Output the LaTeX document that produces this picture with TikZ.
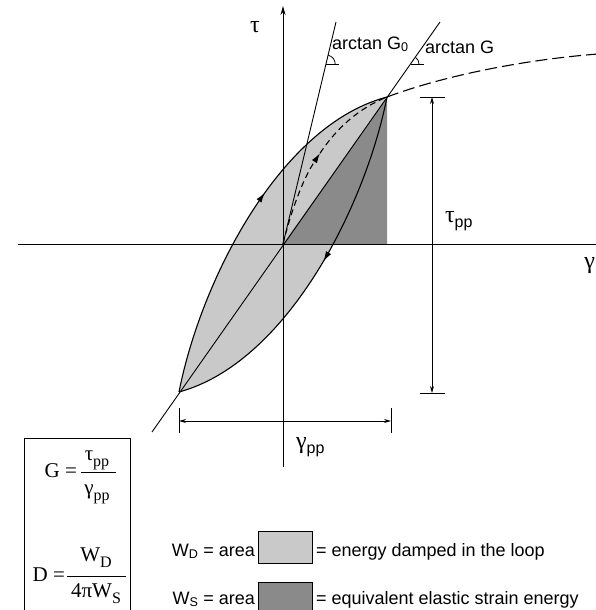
\documentclass[tikz,border=0pt]{standalone}
\usepackage{fontspec}
\setmainfont{Liberation Serif}
\newfontfamily\lsans{Liberation Sans}
\usetikzlibrary{arrows.meta,decorations.markings}
\definecolor{lightfill}{gray}{0.79}
\definecolor{darkfill}{gray}{0.54}
\newcommand{\fsub}[1]{\raisebox{-0.28em}{\fontsize{16}{16}\selectfont #1}}
\tikzset{
  lbl/.style={inner sep=0pt, outer sep=0pt},
  sanslbl/.style={lbl, font=\lsans\fontsize{18}{20}\selectfont},
  greek/.style={lbl, font=\fontsize{24}{26}\selectfont},
  formula/.style={lbl, font=\fontsize{21}{23}\selectfont},
  curve/.style={line width=1.1pt},
  plainline/.style={line width=0.9pt},
  dimline/.style={line width=0.8pt},
  branch arrow/.style={postaction={decorate,decoration={markings,mark=at position #1 with {\arrow{Latex[length=10pt,width=6pt]}}}}},
}
\begin{document}
\begin{tikzpicture}[x=1pt,y=-1pt]
\useasboundingbox (0,0) rectangle (595,610);
% key points
\coordinate (O) at (283,244);
\coordinate (A) at (179,392);
\coordinate (B) at (387,97);
\coordinate (Bfoot) at (387,244);
\coordinate (Glow) at (152,432);
\coordinate (Gup) at (440,22);
\coordinate (G0up) at (336,22);
\coordinate (Bend) at (598,54);
\coordinate (Mid) at (320,153.25);
% fills
\fill[lightfill] (A) .. controls (201,280) and (280,125) .. (B)
                    .. controls (365,208) and (286,363) .. (A) -- cycle;
\fill[darkfill] (O) -- (B) -- (Bfoot) -- cycle;
% axes
\coordinate (Hl) at (18,244);
\coordinate (Hr) at (597,244);
\coordinate (Vb) at (283,467);
\coordinate (Vt) at (283,6);
\draw[plainline] (Hl) -- (Hr);
\draw[plainline,-{Stealth[length=9pt,width=5pt]}] (Vb) -- (Vt);
\node[greek] (tauaxis) at (255,27) {τ};
\node[greek,anchor=east] (gammaaxis) at (595,266) {γ};
% secant and initial tangent
\draw[plainline] (Glow) -- (Gup);
\draw[plainline] (O) -- (G0up);
% loop branches
\draw[curve,branch arrow=0.58] (A) .. controls (201,280) and (280,125) .. (B);
\draw[curve,branch arrow=0.47] (B) .. controls (365,208) and (286,363) .. (A);
% backbone curve (split at its middle, arrow there)
\draw[curve,dash pattern=on 6pt off 4pt,-{Latex[length=10pt,width=6pt]}] (O) .. controls (291.5,209.5) and (303.25,178.5) .. (Mid);
\draw[curve,dash pattern=on 6pt off 4pt] (Mid) .. controls (336.75,128) and (358.5,108.5) .. (B);
\draw[curve,dash pattern=on 12pt off 5pt] (B) .. controls (440,77) and (520,60) .. (Bend);
% angle markers
\coordinate (P0) at (326.2,64);
\coordinate (P1) at (411,64);
\draw[dimline] (P0) -- ++(13,0);
\draw[dimline] ([shift={(9,0)}]P0) arc[start angle=0,end angle=-76.5,radius=9];
\draw[dimline] (P1) -- ++(13,0);
\draw[dimline] ([shift={(8,0)}]P1) arc[start angle=0,end angle=-54.8,radius=8];
\node[sanslbl,anchor=base west] (lblG0) at (332,49) {arctan G\textsubscript{0}};
\node[sanslbl,anchor=base west] (lblG) at (425,54) {arctan G};
% tau_pp dimension
\coordinate (Tt) at (432,97);
\coordinate (Tb) at (432,393);
\draw[dimline] (420,97) -- (445,97);
\draw[dimline] (420,393) -- (445,393);
\draw[dimline,{Stealth[length=7pt,width=4pt]}-{Stealth[length=7pt,width=4pt]}] (Tt) -- (Tb);
\node[greek,anchor=base west] (taupp) at (445,222) {τ\raisebox{-5pt}{\lsans\fontsize{16}{16}\selectfont pp}};
% gamma_pp dimension
\coordinate (Gl) at (179,421);
\coordinate (Gr) at (391,421);
\draw[dimline] (179,408) -- (179,433);
\draw[dimline] (391,408) -- (391,433);
\draw[dimline,{Stealth[length=7pt,width=4pt]}-{Stealth[length=7pt,width=4pt]}] (Gl) -- (Gr);
\node[greek,anchor=base west] (gammapp) at (296,448) {γ\raisebox{-5pt}{\lsans\fontsize{16}{16}\selectfont pp}};
% formula box
\draw[plainline] (24,611) -- (24,438) -- (130,438) -- (130,611);
\node[formula,anchor=east] (Geq) at (77,471) {G =};
\node[formula] (Gnum) at (97,460) {τ\fsub{pp}};
\draw[dimline] (81,472) -- (116,472);
\node[formula] (Gden) at (97,494) {γ\fsub{pp}};
\node[formula,anchor=east] (Deq) at (65,575) {D =};
\node[formula] (Dnum) at (96,558) {W\fsub{D}};
\draw[dimline] (67,576) -- (126,576);
\node[formula] (Dden) at (96,594) {4πW\fsub{S}};
% legend
\node[sanslbl,anchor=base east] (WD) at (255,556) {W\textsubscript{D} = area};
\draw[line width=0.8pt,fill=lightfill] (258,531) rectangle (312,563);
\node[sanslbl,anchor=base west] (WDtxt) at (316,556) {= energy damped in the loop};
\node[sanslbl,anchor=base east] (WS) at (255,604) {W\textsubscript{S} = area};
\fill[darkfill] (258,582) rectangle (312,611);
\draw[line width=0.8pt] (258,611) -- (258,582) -- (312,582) -- (312,611);
\node[sanslbl,anchor=base west] (WStxt) at (316,604) {= equivalent elastic strain energy};
\end{tikzpicture}
\end{document}
